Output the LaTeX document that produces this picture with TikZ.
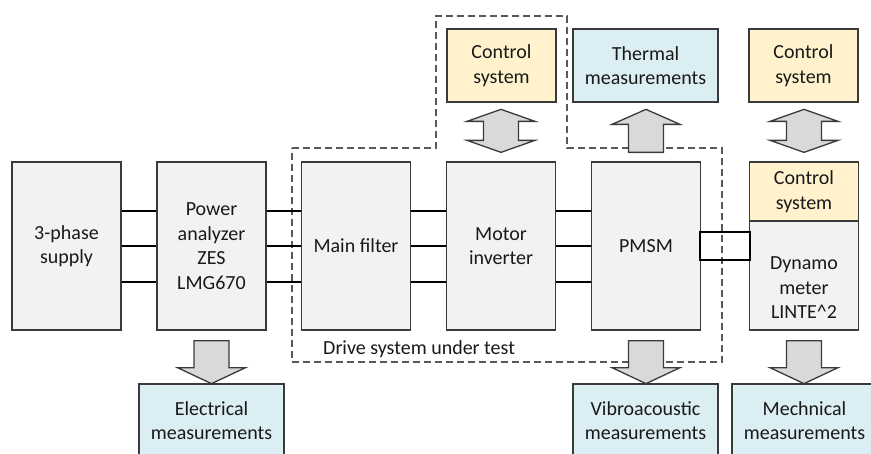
\documentclass[tikz,border=0pt]{standalone}
\usepackage{fontspec}
\setmainfont{Carlito}
\definecolor{boxgray}{HTML}{F2F2F2}
\definecolor{boxline}{HTML}{3A3A3A}
\definecolor{ctrlfill}{HTML}{FFF2CC}
\definecolor{measfill}{HTML}{DAEEF3}
\definecolor{arrfill}{HTML}{D9D9D9}
\definecolor{dashgray}{HTML}{595959}
\newcommand\diagfont{\fontsize{20}{24.5}\selectfont}
\tikzset{
  blk/.style={draw=boxline, line width=1.3pt, fill=boxgray, minimum width=109pt,
    minimum height=168pt, inner sep=0pt, align=center, font=\diagfont, text=black!90},
  ctrlbox/.style={blk, fill=ctrlfill, minimum width=109pt, minimum height=73pt},
  measbox/.style={blk, fill=measfill, minimum width=145pt, minimum height=73pt},
  wire/.style={draw=black, line width=2.4pt},
  arrblk/.style={draw=boxline, line width=1.3pt, fill=arrfill, line join=miter},
  region/.style={draw=dashgray, line width=1.4pt, dash pattern=on 7pt off 4pt},
  downarr/.pic={\filldraw[arrblk] (-17.5,10) -- (17.5,10) -- (17.5,37) -- (34,37) -- (0,53) -- (-34,37) -- (-17.5,37) -- cycle;},
  uparr/.pic={\filldraw[arrblk] (-17.5,-9) -- (17.5,-9) -- (17.5,-37) -- (34,-37) -- (0,-52) -- (-34,-37) -- (-17.5,-37) -- cycle;},
  dblarr/.pic={\filldraw[arrblk] (0,-9) -- (34,-21) -- (17.5,-21) -- (17.5,-40) -- (34,-40) -- (0,-52) -- (-34,-40) -- (-17.5,-40) -- (-17.5,-21) -- (-34,-21) -- cycle;}
}
\begin{document}
\begin{tikzpicture}[x=1pt,y=-1pt]
\useasboundingbox (0,0) rectangle (871,453);
\clip (0,0) rectangle (871,453);
\fill[white] (0,0) rectangle (871,453);

% drive system region
\draw[region] (292,148) -- (436,148) -- (436,16) -- (567,16) -- (567,148) -- (722,148) -- (722,362) -- (292,362) -- cycle;
\node[anchor=west, font=\diagfont, text=black!90, inner sep=0pt] (dstlabel) at (323,349) {Drive system under test};

% main chain
\node[blk] (sup) at (66.5,246) {3-phase\\supply};
\node[blk] (pa) at (211.5,246) {Power\\analyzer\\ZES\\LMG670};
\node[blk] (mf) at (356,246) {Main filter};
\node[blk] (mi) at (501,246) {Motor\\inverter};
\node[blk] (pmsm) at (646,246) {PMSM};
\node[blk, minimum height=109pt] (dyn) at (804,275.5) {};
\node[font=\diagfont, align=center, text=black!90, inner sep=0pt] (dynlbl) at (804,288) {Dynamo\\meter\\LINTE\textasciicircum 2};
\node[ctrlbox, minimum height=59pt] (ctrl2) at (804,191.5) {Control\\system};

% top boxes
\node[ctrlbox] (ctrl1) at (501.5,65.5) {Control\\system};
\node[measbox] (therm) at (645.5,65.5) {Thermal\\measurements};
\node[ctrlbox] (ctrl3) at (803.5,65.5) {Control\\system};

% bottom boxes
\node[measbox] (elec) at (211.5,420.5) {Electrical\\measurements};
\node[measbox] (vib) at (645.5,420.5) {Vibroacoustic\\measurements};
\node[measbox] (mech) at (804.5,420.5) {Mechnical\\measurements};

% three-phase wires
\foreach \a/\b in {sup/pa,pa/mf,mf/mi,mi/pmsm}
  \foreach \dy in {35,0,-36}
    \draw[wire] ([yshift=\dy pt]\a.east) -- ([yshift=\dy pt]\b.west);

% shaft coupling
\node[draw=black, line width=1.8pt, minimum width=50pt, minimum height=28pt, inner sep=0pt] (shaft) at (725,246) {};

% block arrows
\pic at (pa.south) {downarr};
\pic at (pmsm.south) {downarr};
\pic at (dyn.south) {downarr};
\pic at (pmsm.north) {uparr};
\pic at (mi.north) {dblarr};
\pic at (ctrl2.north) {dblarr};
\end{tikzpicture}
\end{document}
